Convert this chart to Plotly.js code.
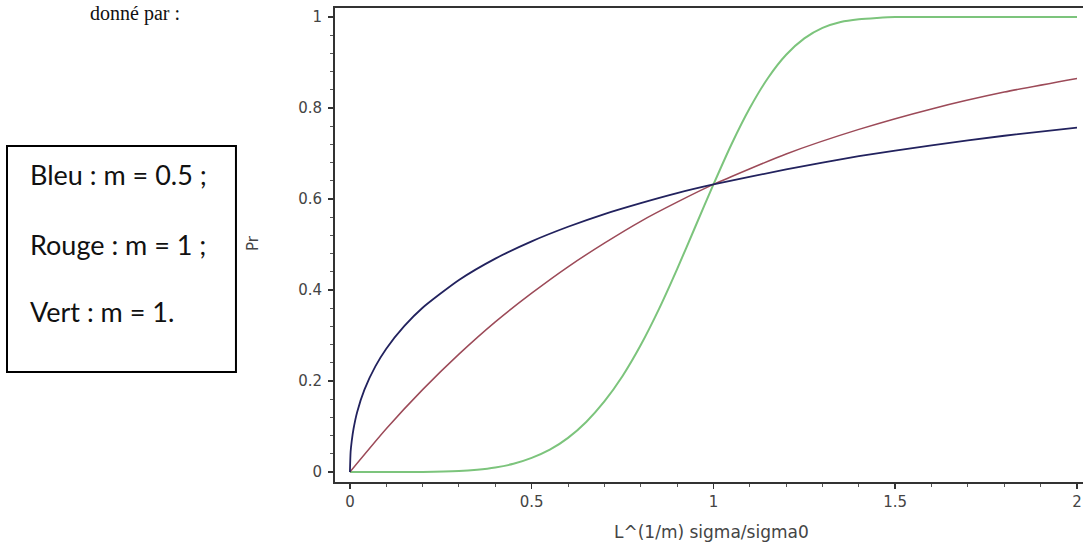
<!DOCTYPE html>
<html>
<head>
<meta charset="utf-8">
<script src="https://cdn.plot.ly/plotly-3.0.1.min.js"></script>
<style>
  html, body { margin: 0; padding: 0; background: #ffffff; }
  #chart { width: 1083px; height: 542px; }
</style>
</head>
<body>
<div id="chart"></div>
<script>
// Values
const blueX = [0, 0.002, 0.005, 0.01, 0.02, 0.04, 0.07, 0.1, 0.15, 0.2, 0.3, 0.4, 0.5, 0.6, 0.7, 0.8, 0.9, 1.0, 1.2, 1.4, 1.6, 1.8, 2.0];
const blueY = [0, 0.045, 0.068, 0.095, 0.132, 0.181, 0.232, 0.271, 0.321, 0.361, 0.422, 0.469, 0.507, 0.539, 0.567, 0.591, 0.613, 0.632, 0.665, 0.694, 0.718, 0.739, 0.757];

const redX = [0, 0.1, 0.2, 0.3, 0.4, 0.5, 0.6, 0.7, 0.8, 0.9, 1.0, 1.2, 1.4, 1.6, 1.8, 2.0];
const redY = [0, 0.095, 0.181, 0.259, 0.330, 0.393, 0.451, 0.503, 0.551, 0.593, 0.632, 0.699, 0.753, 0.798, 0.835, 0.865];

const greenX = [0, 0.1, 0.2, 0.3, 0.35, 0.4, 0.45, 0.5, 0.55, 0.6, 0.65, 0.7, 0.75, 0.8, 0.85, 0.9, 0.95, 1.0, 1.05, 1.1, 1.15, 1.2, 1.25, 1.3, 1.35, 1.4, 1.45, 1.5, 1.6, 1.8, 2.0];
const greenY = [0, 0, 0, 0.002, 0.005, 0.010, 0.018, 0.031, 0.049, 0.075, 0.110, 0.155, 0.211, 0.279, 0.358, 0.446, 0.539, 0.632, 0.721, 0.800, 0.866, 0.917, 0.953, 0.976, 0.989, 0.995, 0.998, 1.0, 1.0, 1.0, 1.0];

const xTickVals = [0, 0.5, 1, 1.5, 2];
const xTickText = ["0", "0.5", "1", "1.5", "2"];
const yTickVals = [0, 0.2, 0.4, 0.6, 0.8, 1];
const yTickText = ["0", "0.2", "0.4", "0.6", "0.8", "1"];

const legendLines = ["Bleu : m = 0.5 ;", "Rouge : m = 1 ;", "Vert : m = 1."];
const xTitle = "L^(1/m) sigma/sigma0";
const yTitle = "Pr";
const topText = "donné par :";

const traces = [
  {x: greenX, y: greenY, mode: 'lines', line: {color: '#7cc47c', width: 2, shape: 'spline', smoothing: 0.8}, hoverinfo: 'skip'},
  {x: redX, y: redY, mode: 'lines', line: {color: '#9c4a58', width: 1.5, shape: 'spline', smoothing: 0.6}, hoverinfo: 'skip'},
  {x: blueX, y: blueY, mode: 'lines', line: {color: '#22225e', width: 1.8, shape: 'spline', smoothing: 0.6}, hoverinfo: 'skip'}
];

const tickFont = {family: 'DejaVu Sans, sans-serif', size: 15, color: '#444'};

const annY = [0.648, 0.502, 0.359];
const annotations = legendLines.map((t, i) => ({
  text: t, xref: 'paper', yref: 'paper', x: -0.411, y: annY[i],
  xanchor: 'left', yanchor: 'middle', showarrow: false,
  font: {family: 'Lato, Noto Sans, sans-serif', size: 27, color: '#111'}
}));
annotations.push({
  text: xTitle, xref: 'paper', yref: 'paper', x: 0.504, y: -0.106,
  xanchor: 'center', yanchor: 'middle', showarrow: false,
  font: {family: 'DejaVu Sans, sans-serif', size: 17, color: '#444'}
});
annotations.push({
  text: yTitle, xref: 'paper', yref: 'paper', x: -0.1096, y: 0.504,
  xanchor: 'center', yanchor: 'middle', showarrow: false, textangle: -90,
  font: {family: 'DejaVu Sans, sans-serif', size: 15, color: '#444'}
});
annotations.push({
  text: topText, xref: 'paper', yref: 'paper', x: -0.33, y: 1.017,
  xanchor: 'left', yanchor: 'top', showarrow: false,
  font: {family: 'Liberation Serif, serif', size: 20, color: '#111'}
});

const layout = {
  width: 1083, height: 542,
  margin: {l: 335, r: 0, t: 8, b: 60, pad: 0},
  paper_bgcolor: '#ffffff', plot_bgcolor: '#ffffff',
  showlegend: false,
  xaxis: {
    range: [-0.041, 2.0165], showgrid: false, zeroline: false,
    showline: true, linecolor: '#333', linewidth: 2, mirror: true,
    ticks: 'outside', ticklen: 5, tickwidth: 1.5, tickcolor: '#333',
    tickvals: xTickVals, ticktext: xTickText, tickfont: tickFont,
    minor: {dtick: 0.1, ticks: 'outside', ticklen: 3, tickcolor: '#555', tickwidth: 1}
  },
  yaxis: {
    range: [-0.022, 1.0198], showgrid: false, zeroline: false,
    showline: true, linecolor: '#333', linewidth: 2,
    ticks: 'outside', ticklen: 5, tickwidth: 1.5, tickcolor: '#333',
    tickvals: yTickVals, ticktext: yTickText, tickfont: tickFont,
    ticklabelstandoff: 3,
    minor: {dtick: 0.04, ticks: 'outside', ticklen: 3, tickcolor: '#555', tickwidth: 1}
  },
  shapes: [{
    type: 'rect', xref: 'paper', yref: 'paper',
    x0: -0.4385, x1: -0.1324, y0: 0.232, y1: 0.709,
    line: {color: '#000', width: 2}, fillcolor: 'rgba(0,0,0,0)'
  }],
  annotations: annotations
};

Plotly.newPlot('chart', traces, layout, {displayModeBar: false, staticPlot: true});
</script>
</body>
</html>
